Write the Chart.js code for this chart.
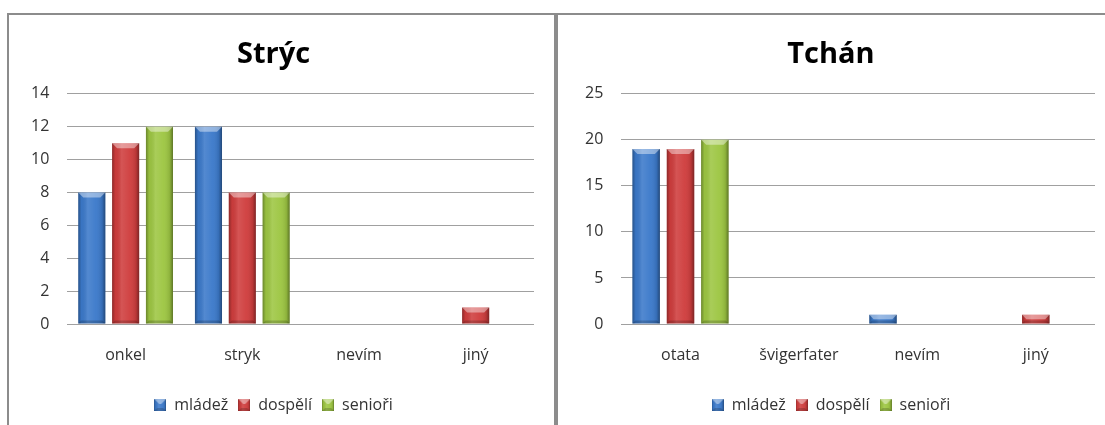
<!DOCTYPE html>
<html>
<head>
<meta charset="utf-8">
<script src="https://cdn.jsdelivr.net/npm/chart.js@4"></script>
<style>
  html, body { margin: 0; padding: 0; background: #fff; }
  body { width: 1105px; height: 425px; position: relative; overflow: hidden; }
  .frame { position: absolute; background: #8c8c8c; }
  canvas { position: absolute; }
</style>
</head>
<body>
<div class="frame" style="left:7px; top:13px; width:1098px; height:2px;"></div>
<div class="frame" style="left:7px; top:13px; width:2px; height:412px;"></div>
<div class="frame" style="left:554px; top:13px; width:4px; height:412px;"></div>
<canvas id="grafStryc" width="545" height="410" style="left:9px; top:15px;"></canvas>
<canvas id="grafTchan" width="547" height="410" style="left:558px; top:15px;"></canvas>

<script>
const skupiny = ['mládež', 'dospělí', 'senioři'];
const barvy = ['#3b79ca', '#cf3d3d', '#9dc642'];

const strycKategorie = ['onkel', 'stryk', 'nevím', 'jiný'];
const strycMladez = [8, 12, 0, 0];
const strycDospeli = [11, 8, 0, 1];
const strycSeniori = [12, 8, 0, 0];

const tchanKategorie = ['otata', 'švigerfater', 'nevím', 'jiný'];
const tchanMladez = [19, 0, 1, 0];
const tchanDospeli = [19, 0, 0, 1];
const tchanSeniori = [20, 0, 0, 0];

const pismo = '"Open Sans", "Noto Sans", sans-serif';

// shading of one bar: darker edges, light bevel on top
function vystinuj(ctx, left, top, width, h) {
    const right = left + width;
    const base = top + h;
    const g = ctx.createLinearGradient(left, 0, right, 0);
    g.addColorStop(0, 'rgba(0,0,0,0.32)');
    g.addColorStop(0.12, 'rgba(0,0,0,0.04)');
    g.addColorStop(0.35, 'rgba(255,255,255,0.12)');
    g.addColorStop(0.65, 'rgba(255,255,255,0.04)');
    g.addColorStop(0.88, 'rgba(0,0,0,0.10)');
    g.addColorStop(1, 'rgba(0,0,0,0.40)');
    ctx.fillStyle = g;
    ctx.fillRect(left, top, width, h);

    const bev = Math.min(5, h / 2);
    ctx.beginPath();
    ctx.moveTo(left, top);
    ctx.lineTo(right, top);
    ctx.lineTo(right - bev, top + bev);
    ctx.lineTo(left + bev, top + bev);
    ctx.closePath();
    ctx.fillStyle = 'rgba(255,255,255,0.42)';
    ctx.fill();

    const bb = Math.min(3, h / 3);
    ctx.beginPath();
    ctx.moveTo(left, base);
    ctx.lineTo(right, base);
    ctx.lineTo(right - bb, base - bb);
    ctx.lineTo(left + bb, base - bb);
    ctx.closePath();
    ctx.fillStyle = 'rgba(0,0,0,0.18)';
    ctx.fill();
}

const stinovani = {
    id: 'stinovani',
    afterDatasetDraw(chart, args) {
        const ctx = chart.ctx;
        const ds = chart.data.datasets[args.index];
        args.meta.data.forEach((bar, i) => {
            if (!ds.data[i]) return;
            const { x, y, base, width } = bar.getProps(['x', 'y', 'base', 'width'], true);
            ctx.save();
            vystinuj(ctx, x - width / 2, y, width, base - y);
            ctx.restore();
        });
    }
};

// small shaded squares for the legend
const ikony = barvy.map(barva => {
    const c = document.createElement('canvas');
    c.width = 12;
    c.height = 12;
    const cx = c.getContext('2d');
    cx.fillStyle = barva;
    cx.fillRect(0, 0, 12, 12);
    vystinuj(cx, 0, 0, 12, 12);
    return c;
});

function vytvorGraf(id, nadpis, kategorie, rady, maximum, krok, okraje) {
    const ctx = document.getElementById(id).getContext('2d');
    return new Chart(ctx, {
        type: 'bar',
        data: {
            labels: kategorie,
            datasets: rady.map((data, i) => ({
                label: skupiny[i],
                data: data,
                backgroundColor: barvy[i],
                borderWidth: 0,
                pointStyle: ikony[i],
                categoryPercentage: 0.87,
                barPercentage: 0.8
            }))
        },
        options: {
            responsive: false,
            animation: false,
            devicePixelRatio: 1,
            layout: { padding: okraje },
            plugins: {
                tooltip: { enabled: false },
                title: {
                    display: true,
                    text: nadpis,
                    color: '#000',
                    font: { family: pismo, size: 29, weight: 'bold' },
                    padding: { top: 22, bottom: 22 }
                },
                legend: {
                    position: 'bottom',
                    labels: {
                        color: '#333',
                        usePointStyle: true,
                        boxWidth: 12,
                        boxHeight: 12,
                        padding: 10,
                        font: { family: pismo, size: 16 }
                    }
                }
            },
            scales: {
                x: {
                    grid: { display: false },
                    border: { display: false },
                    ticks: { color: '#333', padding: 14, font: { family: pismo, size: 16 } },
                    afterFit: (osa) => { osa.height = 63; }
                },
                y: {
                    min: 0,
                    max: maximum,
                    ticks: { stepSize: krok, color: '#333', padding: 18, font: { family: pismo, size: 16 } },
                    grid: { color: '#a0a0a0', lineWidth: 1, drawTicks: false },
                    border: { display: false }
                }
            }
        },
        plugins: [stinovani]
    });
}

vytvorGraf('grafStryc', 'Strýc', strycKategorie,
    [strycMladez, strycDospeli, strycSeniori], 14, 2,
    { left: 4, right: 20, top: 0, bottom: 2 });
vytvorGraf('grafTchan', 'Tchán', tchanKategorie,
    [tchanMladez, tchanDospeli, tchanSeniori], 25, 5,
    { left: 9, right: 10, top: 0, bottom: 2 });
</script>
</body>
</html>
